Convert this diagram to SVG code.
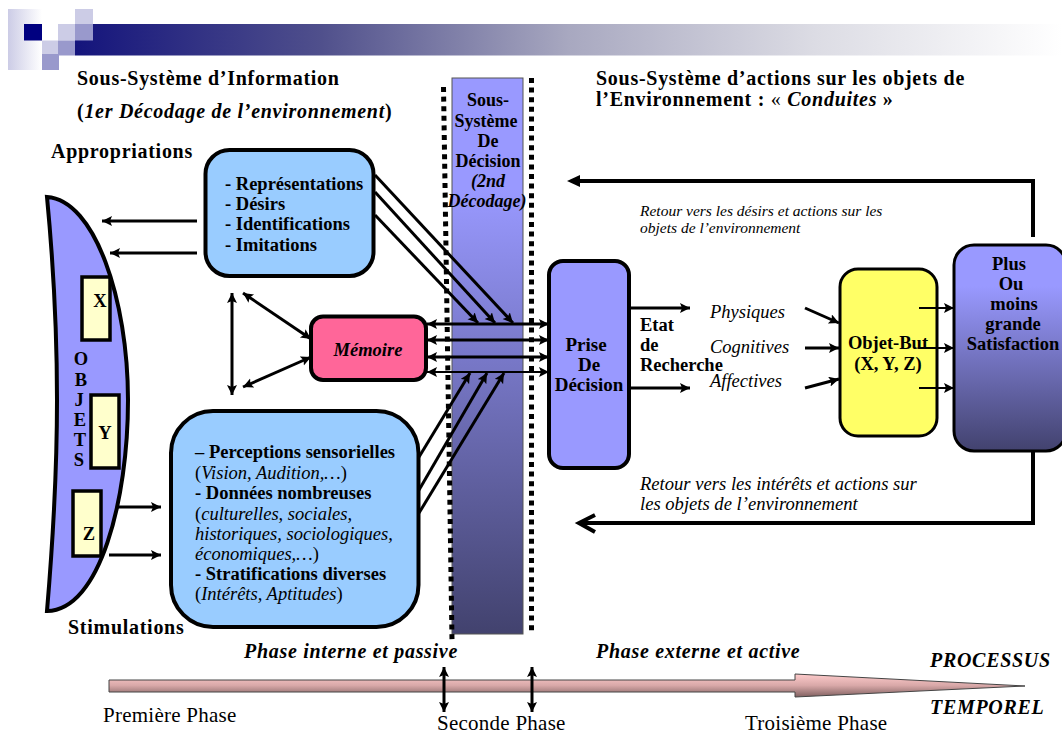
<svg xmlns="http://www.w3.org/2000/svg" width="1062" height="734" viewBox="0 0 1062 734">
<style>
text{font-family:"Liberation Serif","Times New Roman",serif;fill:#000}
.b{font-weight:bold;font-size:20px;letter-spacing:.72px}
.m{font-weight:bold;font-size:18.500px}
.c{text-anchor:middle}
.i{font-style:italic}
.bi{font-weight:bold;font-style:italic;font-size:20px;letter-spacing:.7px}
.s{font-style:italic;font-size:18.500px}
.r{font-style:italic;font-size:15.500px}
.q{font-style:italic;font-size:18.600px}
.p{font-size:21px;letter-spacing:.25px}
.col{font-size:18px}
.l4{fill:none;stroke:#000;stroke-width:4}
.l3{fill:none;stroke:#000;stroke-width:3;marker-end:url(#a)}
.d3{fill:none;stroke:#000;stroke-width:3;marker-end:url(#a);marker-start:url(#a)}
.l2{fill:none;stroke:#000;stroke-width:2;marker-end:url(#a)}
.dot{fill:none;stroke:#000;stroke-width:5;stroke-dasharray:5 4.600}
.box{stroke:#000;stroke-width:4}
.tag{stroke:#000;stroke-width:3.500;fill:#ffffcc}
</style>
<defs>
<marker id="a" markerUnits="userSpaceOnUse" markerWidth="12" markerHeight="12" refX="10" refY="5" orient="auto-start-reverse"><path d="M0,0L10,5L0,10L2,5Z" fill="#000"/></marker>
<linearGradient id="bar"><stop offset="0" stop-color="#14147c"/><stop offset="0.25" stop-color="#50508c"/><stop offset="0.5" stop-color="#a8a8c0"/><stop offset="0.75" stop-color="#dcdce4"/><stop offset="1" stop-color="#fff"/></linearGradient>
<linearGradient id="lt"><stop offset="0" stop-color="#ccccE6"/><stop offset="1" stop-color="#fff"/></linearGradient>
<linearGradient id="col" x2="0" y2="1"><stop offset="0.2" stop-color="#9999ff"/><stop offset="1" stop-color="#42426e"/></linearGradient>
<linearGradient id="tl" x2="0" y2="1"><stop offset="0" stop-color="#ffcccc"/><stop offset="0.5" stop-color="#d8a8a8"/><stop offset="1" stop-color="#806060"/></linearGradient>
</defs>
<g id="header">
<rect x="75" y="24" width="987" height="31.500" fill="url(#bar)"/>
<rect x="8" y="9" width="34" height="61" fill="url(#lt)"/>
<rect x="24" y="24" width="18" height="16.500" fill="#000080"/>
<rect x="58" y="24" width="17" height="16.500" fill="#ccccE6"/>
<rect x="75" y="9" width="18" height="15" fill="#ccccE6"/>
<rect x="75" y="24" width="18" height="16.500" fill="#9999cc"/>
<rect x="42" y="40.500" width="16" height="14.500" fill="#ccccE6"/>
<rect x="58" y="40.500" width="17" height="15" fill="#9999cc"/>
<rect x="42" y="54" width="17" height="16" fill="#9999cc"/>
</g>
<g id="decision">
<rect x="452" y="78" width="71" height="556" fill="url(#col)" stroke="#555" stroke-width="1"/>
<path class="dot" d="M443.500,87L452,640"/>
<path class="dot" d="M531.500,78V632"/>
<text class="c m col" x="488" y="106">Sous-</text><text class="c m col" x="486" y="127">Système</text><text class="c m col" x="488" y="147">De</text><text class="c m col" x="488" y="167">Décision</text><text class="c m i col" x="488" y="187">(2nd</text><text class="c m i col" x="487" y="207">Décodage)</text>
</g>
<g id="objets">
<path class="box" fill="#9999ff" d="M47,197C95,200 128,300 128,400C128,500 100,610 47,611C53,540 57,470 57,400C57,330 53,260 47,197Z"/>
<rect class="tag" x="82" y="277" width="28" height="63"/>
<rect class="tag" x="91" y="395" width="28" height="73"/>
<rect class="tag" x="73" y="491" width="28" height="65"/>
<text class="m c" x="100" y="307">X</text><text class="m c" x="105" y="439">Y</text><text class="m c" x="89" y="540">Z</text>
<text class="m c" x="81" y="365">O</text><text class="m c" x="81" y="386">B</text><text class="m c" x="79" y="406">J</text><text class="m c" x="80" y="426">E</text><text class="m c" x="80" y="446">T</text><text class="m c" x="79" y="466">S</text>
</g>
<g id="appropriations-box">
<rect class="box" fill="#99ccff" x="205.500" y="150" width="168" height="126" rx="24"/>
<text class="m" x="225" y="190">- Représentations</text><text class="m" x="225" y="210">- Désirs</text><text class="m" x="225" y="230">- Identifications</text><text class="m" x="225" y="251">- Imitations</text>
</g>
<g id="stimulations-box">
<rect class="box" fill="#99ccff" x="171" y="411" width="247.500" height="216" rx="42"/>
<text class="m" x="195" y="458">– Perceptions sensorielles</text>
<text class="s" x="195" y="479"><tspan font-style="normal">(</tspan>Vision, Audition,…<tspan font-style="normal">)</tspan></text>
<text class="m" x="195" y="499">- Données nombreuses</text>
<text class="s" x="195" y="520"><tspan font-style="normal">(</tspan>culturelles, sociales,</text>
<text class="s" x="195" y="540">historiques, sociologiques,</text>
<text class="s" x="195" y="560">économiques,…<tspan font-style="normal">)</tspan></text>
<text class="m" x="195" y="580">- Stratifications diverses</text>
<text class="s" x="195" y="600"><tspan font-style="normal">(</tspan>Intérêts, Aptitudes<tspan font-style="normal">)</tspan></text>
</g>
<g id="memoire">
<rect class="box" fill="#ff6699" x="311" y="316.500" width="115" height="63.500" rx="12"/>
<text class="m c i" x="368" y="356">Mémoire</text>
</g>
<g id="prise">
<rect class="box" fill="#9999ff" x="549" y="261" width="80" height="207" rx="14"/>
<text class="m c" x="586" y="351" style="font-size:19px">Prise</text><text class="m c" x="589" y="371" style="font-size:19px">De</text><text class="m c" x="589" y="391" style="font-size:19px">Décision</text>
</g>
<g id="objet-but">
<rect fill="#ffff66" stroke="#000" stroke-width="3" x="840" y="269" width="97" height="167" rx="18"/>
<text class="m c" x="888" y="349">Objet-But</text><text class="m c" x="888" y="370">(X, Y, Z)</text>
</g>
<g id="satisfaction">
<rect fill="url(#col)" stroke="#000" stroke-width="3" x="954" y="245" width="112" height="206" rx="20"/>
<text class="m c" x="1009" y="270">Plus</text><text class="m c" x="1011" y="290">Ou</text><text class="m c" x="1014" y="310">moins</text><text class="m c" x="1013" y="330">grande</text><text class="m c" x="1013" y="350">Satisfaction</text>
</g>
<g id="timeline">
<path fill="url(#tl)" stroke="#444" stroke-width="1" d="M109,680H795V674L1025,686L795,697V692H109Z"/>
</g>
<g id="connectors">
<path class="l3" d="M197,221H102"/><path class="l3" d="M197,253H110"/>
<path class="d3" d="M232,293V395"/><path class="d3" d="M243,293L311,339"/><path class="d3" d="M243,387L311,357"/>
<path class="l3" d="M375,175L513,323"/><path class="l3" d="M375,192L495,323"/><path class="l3" d="M375,215L478,323"/>
<path class="l3" d="M419,457L470,373"/><path class="l3" d="M419,490L487,373"/><path class="l3" d="M419,513L504,373"/>
<path class="d3" d="M427,324H549"/><path class="d3" d="M427,340H549"/><path class="d3" d="M427,357H549"/><path class="d3" style="stroke-width:2" d="M427,372H549"/>
<path class="l3" d="M118,507H161"/><path class="l3" d="M109,555H161"/>
<path class="l3" d="M629,308H690"/><path class="l3" d="M629,388H690"/>
<path class="l3" d="M805,308L839,323"/><path class="l3" d="M805,348H839"/><path class="l3" d="M805,388L839,379"/>
<path class="l2" d="M919,308H954"/><path class="l2" d="M919,348H954"/><path class="l2" d="M919,388H954"/>
<path class="l4" d="M1033,237V181H580"/><path d="M567,181L580,175V187Z" fill="#000"/>
<path class="l4" d="M1033,451V523H580"/><path class="l4" d="M595,515L579,523L595,532"/>
<path class="d3" d="M444,667V712"/><path class="d3" d="M532,667V712"/>
</g>
<g id="labels">
<text class="b" x="77" y="85">Sous-Système d’Information</text>
<text class="b" x="77" y="118">(<tspan font-style="italic">1er Décodage de l’environnement</tspan>)</text>
<text class="b" x="51" y="158">Appropriations</text>
<text class="b" x="68" y="634">Stimulations</text>
<text class="b" x="596" y="85">Sous-Système d’actions sur les objets de</text>
<text class="b" x="596" y="106">l’Environnement : <tspan font-weight="normal">«</tspan> <tspan font-style="italic">Conduites</tspan> »</text>
<text class="r" x="640" y="216">Retour vers les désirs et actions sur les</text>
<text class="r" x="640" y="233">objets de l’environnement</text>
<text class="q" x="640" y="490">Retour vers les intérêts et actions sur</text>
<text class="q" x="640" y="510">les objets de l’environnement</text>
<text class="m" x="640" y="331">Etat</text><text class="m" x="640" y="351">de</text><text class="m" x="640" y="371">Recherche</text>
<text class="s" x="710" y="318">Physiques</text><text class="s" x="710" y="353">Cognitives</text><text class="s" x="710" y="387">Affectives</text>
<text class="bi" x="244" y="658">Phase interne et passive</text>
<text class="bi" x="596" y="658">Phase externe et active</text>
<text class="bi" x="930" y="667">PROCESSUS</text>
<text class="bi" x="930" y="714">TEMPOREL</text>
<text class="p" x="103" y="722">Première Phase</text>
<text class="p" x="437" y="730">Seconde Phase</text>
<text class="p" x="745" y="730">Troisième Phase</text>
</g>
</svg>
